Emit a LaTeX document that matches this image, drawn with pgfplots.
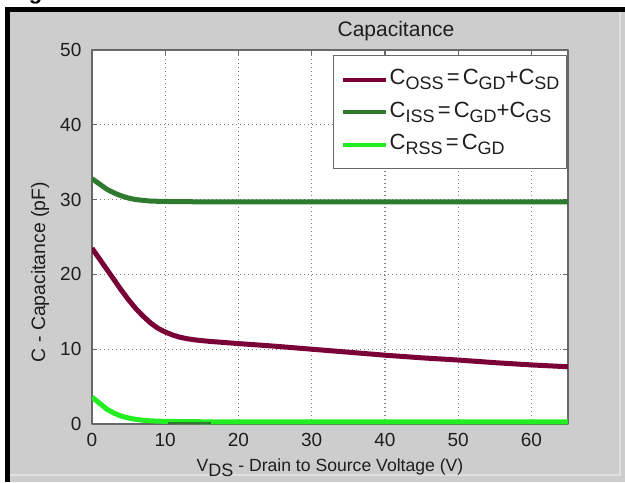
\documentclass[border=0pt]{standalone}
\usepackage{pgfplots}
\pgfplotsset{compat=1.18}
\usepackage{fontspec}
\setmainfont{Liberation Sans}
\definecolor{figgrey}{HTML}{CDCDCD}
\definecolor{figlight}{HTML}{E0E0E0}
\definecolor{axgrey}{HTML}{686868}
\definecolor{gridgrey}{HTML}{808080}
\definecolor{coss}{HTML}{7A0038}
\definecolor{ciss}{HTML}{2E7B30}
\definecolor{crss}{HTML}{22EE22}
\definecolor{txt}{HTML}{1E1E1E}
\newcommand\sub[1]{\raisebox{-2.6pt}{\fontsize{9}{9}\selectfont #1}}
\newcommand\eq{\hspace{1.6pt}=\hspace{1.6pt}}
\begin{document}
\begin{tikzpicture}
\useasboundingbox (0,0) rectangle (312.5pt,241pt);
\fill[white] (0,0) rectangle (312.5pt,241pt);
\fill[figgrey] (4.5pt,0) rectangle (312.5pt,235pt);
\draw[figlight, line width=0.6pt] (5pt,3.5pt) -- (310pt,3.5pt) -- (310pt,235pt);
\fill[black] (2.5pt,0) rectangle (5pt,237.5pt);
\fill[black] (2.5pt,235pt) rectangle (312.5pt,237.5pt);
\node[anchor=base west, inner sep=0, font=\bfseries\fontsize{11}{11}\selectfont] at (4.5pt,241.3pt) {Figure};
\node[anchor=center, inner sep=0, font=\fontsize{10.5}{11}\selectfont, text=txt] at (198pt,225.5pt) {Capacitance};
\begin{axis}[
  at={(46pt,29pt)}, anchor=south west, scale only axis,
  width=238pt, height=187pt,
  xmin=0, xmax=65, ymin=0, ymax=50,
  xtick={0,10,20,30,40,50,60}, ytick={0,10,20,30,40,50},
  axis background/.style={fill=white},
  axis line style={draw=axgrey, line width=0.8pt},
  tick style={draw=axgrey, line width=0.6pt},
  major tick length=2.5pt, tick align=inside,
  grid=major,
  major grid style={draw=gridgrey, line width=0.6pt, dash pattern=on 0.7pt off 1.3pt},
  ticklabel style={font=\fontsize{9.5}{10}\selectfont, text=txt},
  /pgf/number format/assume math mode=true,
  yticklabel style={xshift=-1.8pt},
  xticklabel style={yshift=-1.3pt},
  xlabel={V\sub{DS} - Drain to Source Voltage (V)},
  xlabel style={at={(axis description cs:0.5,-0.1257)}, anchor=base, font=\fontsize{8.8}{9}\selectfont, text=txt},
  ylabel={C - Capacitance (pF)},
  ylabel style={at={(axis description cs:-0.109,0.406)}, anchor=center, font=\fontsize{9.7}{10}\selectfont, text=txt},
  legend cell align=left,
  legend style={at={(axis description cs:0.506,0.987)}, anchor=north west, draw=axgrey, line width=0.8pt, fill=white,
    inner xsep=3.5pt, inner ysep=6.5pt, row sep=5.25pt, column sep=1pt,
    font=\fontsize{11}{11}\selectfont, text=txt,
    nodes={inner sep=0pt, text height=8pt, text depth=3pt}},
  legend image code/.code={\draw[#1, line width=2pt] (0pt,0pt) -- (21.5pt,0pt);},
  line join=round,
]
\addplot[coss, line width=2.5pt, no markers] coordinates {
(0,23.5) (1,22.1) (2,20.7) (3,19.3) (4,17.9) (5,16.6) (6,15.4) (7,14.4) (8,13.5) (9,12.8)
(10,12.3) (11,11.9) (12,11.6) (13,11.4) (14,11.25) (16,11.05) (18,10.9) (20,10.75) (25,10.4)
(30,10.0) (35,9.6) (40,9.2) (45,8.85) (50,8.55) (55,8.2) (60,7.9) (65,7.65)};
\addlegendentry{C\sub{OSS}\eq C\sub{GD}+C\sub{SD}}
\addplot[ciss, line width=2.5pt, no markers] coordinates {
(0,32.8) (1,32.1) (2,31.4) (3,30.9) (4,30.5) (5,30.2) (6,30.0) (7,29.9) (8,29.8) (10,29.75) (15,29.7) (65,29.7)};
\addlegendentry{C\sub{ISS}\eq C\sub{GD}+C\sub{GS}}
\addplot[crss, line width=2.5pt, no markers] coordinates {
(0,3.6) (1,2.8) (2,2.0) (3,1.45) (4,1.05) (5,0.8) (6,0.62) (7,0.5) (8,0.42) (10,0.35) (15,0.3) (65,0.3)};
\addlegendentry{C\sub{RSS}\eq C\sub{GD}}
\addplot[ciss, line width=1pt, no markers, forget plot] coordinates {(10.4,0.12) (16.3,0.12)};
\end{axis}
\end{tikzpicture}
\end{document}
